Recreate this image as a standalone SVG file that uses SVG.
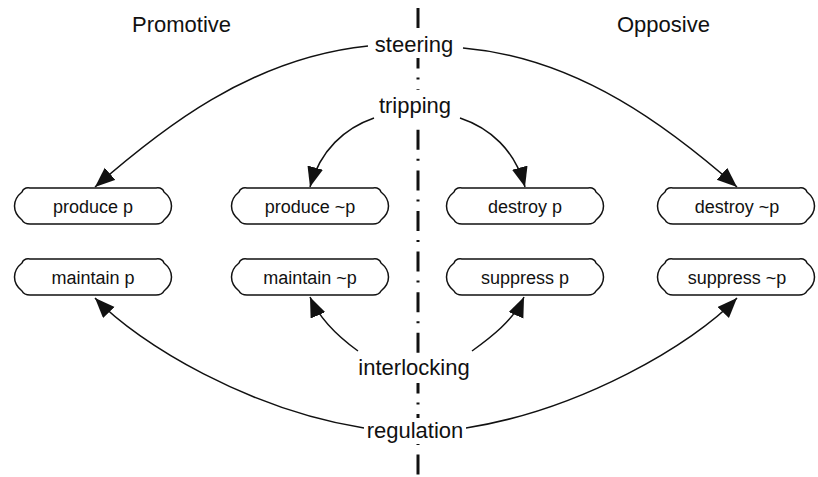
<svg xmlns="http://www.w3.org/2000/svg" width="818" height="477" viewBox="0 0 818 477">
  <style>
    text { font-family: "Liberation Sans", Arial, sans-serif; fill: #111; }
    .head { font-size: 22px; }
    .lbl { font-size: 22px; text-anchor: middle; }
    .box use { fill: #fff; stroke: #111; stroke-width: 1.5; }
    .box text { font-size: 18px; text-anchor: middle; }
    .conn { fill: none; stroke: #111; stroke-width: 1.5; marker-end: url(#arrow); }
    .axis { stroke: #111; stroke-width: 3; stroke-dasharray: 20 9 2 9.6; }
    .bg { fill: #fff; }
  </style>
  <defs>
    <marker id="arrow" markerUnits="userSpaceOnUse" markerWidth="22" markerHeight="18" refX="20" refY="8" orient="auto">
      <path d="M0,0 L20,8 L0,16 z" fill="#111"/>
    </marker>
    <!-- scroll-ended pill, 162 x 36 -->
    <path id="pill" d="M18,0 L144,0 Q150,-1 152,4 C162,12 162,24 152,32 Q150,36 144,36 L18,36 Q12,36 10,32 C0,24 0,12 10,4 Q12,-1 18,0 Z"/>
  </defs>

  <!-- column headings -->
  <text class="head" x="132" y="32">Promotive</text>
  <text class="head" x="617" y="32">Opposive</text>

  <!-- dividing axis -->
  <line class="axis" x1="418" y1="8" x2="418" y2="477"/>

  <!-- connectors -->
  <g id="connectors">
    <path class="conn" d="M368,46 C250,58 160,130 95,187"/>
    <path class="conn" d="M463,48 C580,58 672,130 737,187"/>
    <path class="conn" d="M374,118 C345,128 320,150 310,187"/>
    <path class="conn" d="M460,118 C490,128 515,150 525,187"/>
    <path class="conn" d="M358,351 C340,338 320,320 310,297"/>
    <path class="conn" d="M472,351 C490,338 514,320 524,297"/>
    <path class="conn" d="M364,428 C250,410 140,345 95,298"/>
    <path class="conn" d="M466,428 C580,410 692,345 737,298"/>
  </g>

  <!-- labels on the axis -->
  <g id="steering">
    <rect class="bg" x="371" y="28" width="86" height="30"/>
    <text class="lbl" x="414" y="52">steering</text>
  </g>
  <g id="tripping">
    <rect class="bg" x="377" y="90" width="78" height="37"/>
    <text class="lbl" x="415" y="113">tripping</text>
  </g>
  <g id="interlocking">
    <rect class="bg" x="356" y="353" width="116" height="30"/>
    <text class="lbl" x="414" y="375">interlocking</text>
  </g>
  <g id="regulation">
    <rect class="bg" x="364" y="418" width="102" height="26"/>
    <text class="lbl" x="415" y="438">regulation</text>
  </g>

  <!-- activity nodes -->
  <g id="produce-p" class="box" transform="translate(12,188)">
    <use href="#pill"/>
    <text x="81" y="24.5">produce p</text>
  </g>
  <g id="produce-not-p" class="box" transform="translate(229,188)">
    <use href="#pill"/>
    <text x="81" y="24.5">produce ~p</text>
  </g>
  <g id="destroy-p" class="box" transform="translate(444,188)">
    <use href="#pill"/>
    <text x="81" y="24.5">destroy p</text>
  </g>
  <g id="destroy-not-p" class="box" transform="translate(655,188)">
    <use href="#pill"/>
    <text x="82" y="24.5">destroy ~p</text>
  </g>
  <g id="maintain-p" class="box" transform="translate(12,259)">
    <use href="#pill"/>
    <text x="81" y="24.5">maintain p</text>
  </g>
  <g id="maintain-not-p" class="box" transform="translate(229,259)">
    <use href="#pill"/>
    <text x="81" y="24.5">maintain ~p</text>
  </g>
  <g id="suppress-p" class="box" transform="translate(444,259)">
    <use href="#pill"/>
    <text x="81" y="24.5">suppress p</text>
  </g>
  <g id="suppress-not-p" class="box" transform="translate(655,259)">
    <use href="#pill"/>
    <text x="82" y="24.5">suppress ~p</text>
  </g>
</svg>
